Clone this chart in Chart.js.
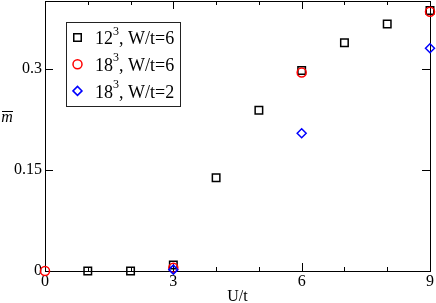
<!DOCTYPE html>
<html>
<head>
<meta charset="utf-8">
<script src="https://cdn.jsdelivr.net/npm/chart.js@4/dist/chart.umd.min.js"></script>
<style>
  body { margin: 0; background: #fff; }
  #wrap { width: 436px; height: 303px; position: relative; }
</style>
</head>
<body>
<div id="wrap"><canvas id="chart1"></canvas></div>
<script>
// Datos de la grafica
var ut12 = [1, 2, 3, 4, 5, 6, 7, 8, 9];
var m12 = [0, 0, 0.009, 0.138, 0.238, 0.297, 0.338, 0.366, 0.386];
var ut18w6 = [0, 3, 6, 9];
var m18w6 = [0, 0.005, 0.294, 0.384];
var ut18w2 = [3, 6, 9];
var m18w2 = [0.002, 0.204, 0.33];
var sizes = ['12', '18', '18'];
var wts = ['6', '6', '2'];
var xTicks = [0, 3, 6, 9];
var xMinor = [1, 2, 4, 5, 7, 8];
var yTicks = [0, 0.15, 0.3];

var serif = "'Liberation Serif', 'DejaVu Serif', serif";

function pts(xs, ys) {
    return xs.map(function(x, i) { return { x: x, y: ys[i] }; });
}

// Ticks hacia adentro, marco y leyenda
var framePlugin = {
    id: 'frame',
    beforeDatasetsDraw: function(chart) {
        var ctx = chart.ctx;
        var a = chart.chartArea;
        var xs = chart.scales.x;
        var ys = chart.scales.y;
        ctx.save();
        ctx.strokeStyle = '#000';
        ctx.lineWidth = 1;
        ctx.beginPath();
        ctx.moveTo(a.left, a.top + 0.5);
        ctx.lineTo(a.right + 0.5, a.top + 0.5);
        ctx.lineTo(a.right + 0.5, a.bottom);
        xTicks.forEach(function(v) {
            var px = Math.round(xs.getPixelForValue(v)) + 0.5;
            ctx.moveTo(px, a.bottom); ctx.lineTo(px, a.bottom - 8);
            ctx.moveTo(px, a.top); ctx.lineTo(px, a.top + 8);
        });
        xMinor.forEach(function(v) {
            var px = Math.round(xs.getPixelForValue(v)) + 0.5;
            ctx.moveTo(px, a.bottom); ctx.lineTo(px, a.bottom - 4);
            ctx.moveTo(px, a.top); ctx.lineTo(px, a.top + 4);
        });
        yTicks.forEach(function(v) {
            var py = Math.round(ys.getPixelForValue(v)) + 0.5;
            ctx.moveTo(a.left, py); ctx.lineTo(a.left + 8, py);
            ctx.moveTo(a.right, py); ctx.lineTo(a.right - 8, py);
        });
        ctx.stroke();

        // etiqueta del eje y: m con barra
        ctx.fillStyle = '#000';
        ctx.font = 'italic 16px ' + serif;
        ctx.textAlign = 'center';
        ctx.textBaseline = 'middle';
        ctx.fillText('m', 7, 118);
        ctx.beginPath();
        ctx.moveTo(2, 111.5);
        ctx.lineTo(13, 111.5);
        ctx.stroke();
        ctx.restore();
    },
    afterDraw: function(chart) {
        var ctx = chart.ctx;
        ctx.save();
        ctx.fillStyle = '#fff';
        ctx.strokeStyle = '#222';
        ctx.lineWidth = 1;
        ctx.fillRect(66.5, 22.5, 114, 84);
        ctx.strokeRect(66.5, 22.5, 114, 84);
        chart.data.datasets.forEach(function(ds, i) {
            var y = 37.5 + i * 26.7;
            ctx.strokeStyle = ds.borderColor;
            ctx.fillStyle = 'rgba(0,0,0,0)';
            ctx.lineWidth = ds.borderWidth;
            Chart.helpers.drawPoint(ctx, {
                pointStyle: ds.pointStyle,
                radius: ds.pointRadius,
                borderWidth: ds.borderWidth,
                rotation: 0
            }, 77.5, y);
            ctx.fillStyle = '#000';
            ctx.textAlign = 'left';
            ctx.textBaseline = 'middle';
            ctx.font = '18px ' + serif;
            ctx.fillText(sizes[i], 95, y + 2);
            var w = ctx.measureText(sizes[i]).width;
            ctx.font = '12px ' + serif;
            ctx.fillText('3', 95 + w, y - 6);
            var w2 = ctx.measureText('3').width;
            ctx.font = '18px ' + serif;
            ctx.fillText(', W/t=' + wts[i], 95 + w + w2, y + 2);
        });
        ctx.restore();
    }
};

var ctx1 = document.getElementById('chart1').getContext('2d');
var chart1 = new Chart(ctx1, {
    type: 'scatter',
    data: {
        datasets: [{
            label: sizes[0] + '³, W/t=' + wts[0],
            data: pts(ut12, m12),
            pointStyle: 'rect',
            pointRadius: 5.3,
            borderColor: '#000',
            backgroundColor: 'rgba(0,0,0,0)',
            borderWidth: 1.5,
            order: 3
        }, {
            label: sizes[1] + '³, W/t=' + wts[1],
            data: pts(ut18w6, m18w6),
            pointStyle: 'circle',
            pointRadius: 4.5,
            borderColor: '#ff0000',
            backgroundColor: 'rgba(0,0,0,0)',
            borderWidth: 1.5,
            order: 2
        }, {
            label: sizes[2] + '³, W/t=' + wts[2],
            data: pts(ut18w2, m18w2),
            pointStyle: 'rectRot',
            pointRadius: 4.5,
            borderColor: '#0000ff',
            backgroundColor: 'rgba(0,0,0,0)',
            borderWidth: 1.5,
            order: 1
        }]
    },
    options: {
        responsive: true,
        maintainAspectRatio: false,
        animation: false,
        clip: false,
        layout: { autoPadding: false, padding: { top: 1, right: 6, left: 0, bottom: 0 } },
        plugins: {
            legend: { display: false },
            tooltip: { enabled: false }
        },
        scales: {
            x: {
                type: 'linear',
                min: 0,
                max: 9,
                afterBuildTicks: function(scale) {
                    scale.ticks = xTicks.map(function(v) { return { value: v }; });
                },
                afterFit: function(scale) {
                    scale.height = 32;
                    scale.paddingLeft = 0;
                    scale.paddingRight = 0;
                },
                grid: { display: false, drawTicks: false },
                border: { display: true, color: '#000', width: 1 },
                ticks: {
                    color: '#000',
                    padding: 1,
                    maxRotation: 0,
                    font: { family: serif, size: 16 },
                    callback: function(v) { return String(v); }
                },
                title: {
                    display: true,
                    text: 'U/t',
                    color: '#000',
                    font: { family: serif, size: 16 },
                    padding: { top: 0, bottom: -3 }
                }
            },
            y: {
                min: 0,
                max: 0.4,
                afterBuildTicks: function(scale) {
                    scale.ticks = yTicks.map(function(v) { return { value: v }; });
                },
                afterFit: function(scale) {
                    scale.width = 45;
                    scale.paddingTop = 0;
                    scale.paddingBottom = 0;
                },
                grid: { display: false, drawTicks: false },
                border: { display: true, color: '#000', width: 1 },
                ticks: {
                    color: '#000',
                    padding: 3,
                    font: { family: serif, size: 16 },
                    callback: function(v) { return String(v); }
                }
            }
        }
    },
    plugins: [framePlugin]
});
</script>
</body>
</html>
